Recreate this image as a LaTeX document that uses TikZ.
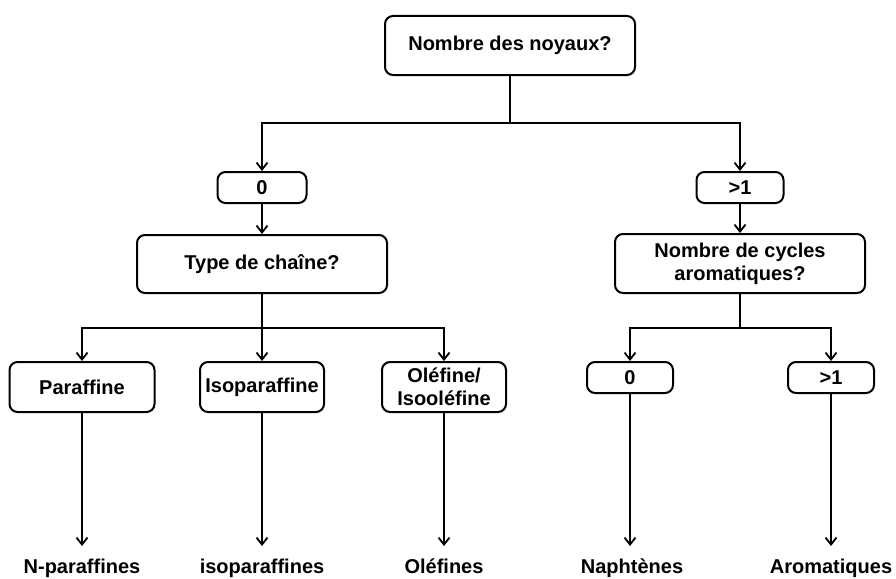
\documentclass[tikz,border=0pt]{standalone}
\usepackage{fontspec}
\setmainfont{Liberation Sans}
\usetikzlibrary{arrows.meta}
\begin{document}
\begin{tikzpicture}[x=1pt,y=-1pt,
  txt/.style={font=\bfseries\fontsize{20}{23}\selectfont},
  bx/.style={txt,draw,line width=2pt,rounded corners=8pt,align=center,inner sep=0pt},
  lbl/.style={txt,anchor=base,inner sep=0pt},
  conn/.style={line width=1.8pt},
  arr/.style={line width=1.8pt,-{Straight Barb[length=7pt,width=11pt,line width=1.8pt]}}]
\useasboundingbox (0,0) rectangle (896,578);
\node[bx,minimum width=250pt,minimum height=59pt] (top) at (510,45.5) {Nombre des noyaux?};
\node[bx,minimum width=89pt,minimum height=31pt] (z0) at (262,187.5) {0};
\node[bx,minimum width=87pt,minimum height=31pt] (g1) at (740,187.5) {>1};
\node[bx,minimum width=250pt,minimum height=58pt] (type) at (262,264) {Type de chaîne?};
\node[bx,minimum width=250pt,minimum height=59pt] (cyc) at (740,263.5) {Nombre de cycles\\aromatiques?};
\node[bx,minimum width=145pt,minimum height=50pt] (par) at (82,387) {Paraffine};
\node[bx,minimum width=124pt,minimum height=50pt] (iso) at (262,387) {Isoparaffine};
\node[bx,minimum width=124pt,minimum height=50pt] (ole) at (444,387) {Oléfine/\\Isooléfine};
\node[bx,minimum width=86pt,minimum height=31pt] (n0) at (630,377.5) {0};
\node[bx,minimum width=86pt,minimum height=31pt] (n1) at (831,377.5) {>1};
\node[lbl] (lpar) at (82,573) {N-paraffines};
\node[lbl] (liso) at (262,573) {isoparaffines};
\node[lbl] (lole) at (444,573) {Oléfines};
\node[lbl] (ln0) at (632,573) {Naphtènes};
\node[lbl] (ln1) at (831,573) {Aromatiques};
\coordinate (s1) at (510,123);
\coordinate (s2) at (262,328);
\coordinate (s3) at (740,328);
\coordinate (e) at (0,546);
% top split
\draw[conn] (top.south) -- (s1);
\draw[arr] (s1) -| (z0.north);
\draw[arr] (s1) -| (g1.north);
\draw[arr] (z0) -- (type);
\draw[arr] (g1) -- (cyc);
% left split
\draw[conn] (type.south) -- (s2);
\draw[arr] (s2) -| (par.north);
\draw[arr] (s2) -- (iso.north);
\draw[arr] (s2) -| (ole.north);
% right split
\draw[conn] (cyc.south) -- (s3);
\draw[arr] (s3) -| (n0.north);
\draw[arr] (s3) -| (n1.north);
% to final labels
\draw[arr] (par.south) -- (par.south |- e);
\draw[arr] (iso.south) -- (iso.south |- e);
\draw[arr] (ole.south) -- (ole.south |- e);
\draw[arr] (n0.south) -- (n0.south |- e);
\draw[arr] (n1.south) -- (n1.south |- e);
\end{tikzpicture}
\end{document}
